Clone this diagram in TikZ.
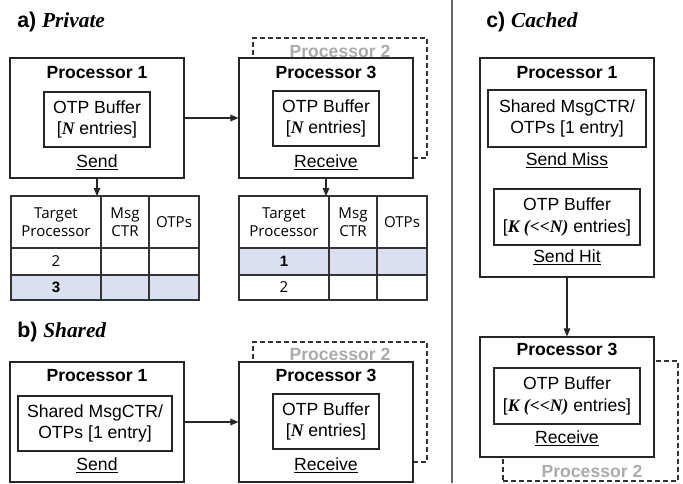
\documentclass[tikz,border=0pt]{standalone}
\usepackage{fontspec}
\setmainfont{Liberation Sans}
\newfontfamily\tms{Liberation Serif}
\newfontfamily\cellfont{Open Sans}
\usetikzlibrary{fit,arrows.meta}
\definecolor{rowhl}{HTML}{DAE0F0}
\definecolor{ghostgray}{HTML}{ABABAB}
\newcommand{\vbi}[1]{{\tms\bfseries\itshape #1}}
\begin{document}
\begin{tikzpicture}[x=0.75pt,y=-0.75pt,
  every node/.style={inner sep=0pt},
  procbox/.style={draw=black!85, fill=white, line width=0.9pt},
  innerbox/.style={draw=black!85, line width=0.9pt},
  ghostbox/.style={draw=black!80, dash pattern=on 3.5pt off 2.5pt, line width=0.8pt},
  proclbl/.style={font=\fontsize{13.2}{16}\selectfont\bfseries, anchor=base},
  ghostlbl/.style={proclbl, text=ghostgray},
  bodytxt/.style={font=\fontsize{13.2}{16}\selectfont, align=center},
  oplbl/.style={font=\fontsize{13.2}{16}\selectfont, anchor=base},
  paneltitle/.style={font=\fontsize{16}{19}\selectfont\bfseries, anchor=base west},
  celltxt/.style={font=\cellfont\fontsize{11.3}{13.5}\selectfont, align=center},
  link/.style={draw=black!85, line width=0.8pt, -{Triangle[length=6pt,width=5pt]}},
  tabline/.style={draw=black!80, line width=0.8pt},
  sepline/.style={draw=black!60, line width=1.1pt}
]
\useasboundingbox (0,0) rectangle (683,483);

% separator between the left panels and the cached panel
\draw[sepline] (452,0) -- (452,483);

% ---------------- a) Private ----------------
\node[paneltitle] (ta) at (17,27) {a) {\tms\itshape Private}};

\node[procbox, fit={(10,58)(184,178)}] (p1a) {};
\node[proclbl] (p1alab) at (97,78) {Processor 1};
\node[innerbox, fit={(44,92)(150,147)}] (bufa1) {};
\node[bodytxt] (bufa1txt) at (bufa1.center) {OTP Buffer\\{[}\vbi{N} entries{]}};
\node[oplbl] (senda) at (97,167) {\underline{Send}};

\node[ghostbox, fit={(253,38)(427,158)}] (p2a) {};
\node[ghostlbl] (p2alab) at (340,57) {Processor 2};
\node[procbox, fit={(239,58)(413,178)}] (p3a) {};
\node[proclbl] (p3alab) at (326,78) {Processor 3};
\node[innerbox, fit={(273,91)(379,146)}] (bufa3) {};
\node[bodytxt] (bufa3txt) at (bufa3.center) {OTP Buffer\\{[}\vbi{N} entries{]}};
\node[oplbl] (recva) at (326,167) {\underline{Receive}};

\draw[link] (p1a.east) -- (p1a.east -| p3a.west);

% sender-side table
\begin{scope}[shift={(11,0)}]
  \fill[rowhl] (0,275) rectangle (188,300);
  \draw[tabline] (0,196) rectangle (188,300);
  \draw[tabline] (0,248) -- (188,248) (0,275) -- (188,275)
                 (90,196) -- (90,300) (138,196) -- (138,300);
  \coordinate (tab1) at (0,196);
  \node[celltxt] (tab1h1) at (45,222) {Target\\Processor};
  \node[celltxt] (tab1h2) at (114,222) {Msg\\CTR};
  \node[celltxt] (tab1h3) at (163,222) {OTPs};
  \node[celltxt] (tab1r1) at (45,261.5) {2};
  \node[celltxt, font=\fontsize{11.3}{13.5}\selectfont\bfseries] (tab1r2) at (45,287.5) {3};
\end{scope}

% receiver-side table
\begin{scope}[shift={(239,0)}]
  \fill[rowhl] (0,248) rectangle (188,275);
  \draw[tabline] (0,196) rectangle (188,300);
  \draw[tabline] (0,248) -- (188,248) (0,275) -- (188,275)
                 (90,196) -- (90,300) (138,196) -- (138,300);
  \coordinate (tab2) at (0,196);
  \node[celltxt] (tab2h1) at (45,222) {Target\\Processor};
  \node[celltxt] (tab2h2) at (114,222) {Msg\\CTR};
  \node[celltxt] (tab2h3) at (163,222) {OTPs};
  \node[celltxt, font=\fontsize{11.3}{13.5}\selectfont\bfseries] (tab2r1) at (45,261.5) {1};
  \node[celltxt] (tab2r2) at (45,287.5) {2};
\end{scope}

\draw[link] (p1a.south) -- (p1a.south |- tab1);
\draw[link] (p3a.south) -- (p3a.south |- tab2);

% ---------------- b) Shared ----------------
\node[paneltitle] (tb) at (17,337) {b) {\tms\itshape Shared}};

\node[procbox, fit={(10,362)(184,482)}] (p1b) {};
\node[proclbl] (p1blab) at (97,381) {Processor 1};
\node[innerbox, fit={(18,396)(172,451)}] (bufb1) {};
\node[bodytxt] (bufb1txt) at (bufb1.center) {Shared MsgCTR/\\OTPs {[}1 entry{]}};
\node[oplbl] (sendb) at (97,470) {\underline{Send}};

\node[ghostbox, fit={(253,342)(427,462)}] (p2b) {};
\node[ghostlbl] (p2blab) at (340,360) {Processor 2};
\node[procbox, fit={(239,362)(413,482)}] (p3b) {};
\node[proclbl] (p3blab) at (326,381) {Processor 3};
\node[innerbox, fit={(273,394)(379,449)}] (bufb3) {};
\node[bodytxt] (bufb3txt) at (bufb3.center) {OTP Buffer\\{[}\vbi{N} entries{]}};
\node[oplbl] (recvb) at (326,470) {\underline{Receive}};

\draw[link] (p1b.east) -- (p1b.east -| p3b.west);

% ---------------- c) Cached ----------------
\node[paneltitle] (tc) at (486,27) {c) {\tms\itshape Cached}};

\node[procbox, fit={(480,58)(654,277)}] (p1c) {};
\node[proclbl] (p1clab) at (567,78) {Processor 1};
\node[innerbox, fit={(488,90)(646,147)}] (shc) {};
\node[bodytxt] (shctxt) at (shc.center) {Shared MsgCTR/\\OTPs {[}1 entry{]}};
\node[oplbl] (missc) at (567,165) {\underline{Send Miss}};
\node[innerbox, fit={(494,189)(640,245)}] (bufc1) {};
\node[bodytxt] (bufc1txt) at (bufc1.center) {OTP Buffer\\{[}\vbi{K (<<N)} entries{]}};
\node[oplbl] (hitc) at (567,262) {\underline{Send Hit}};

\node[ghostbox, fit={(503,361)(678,481)}] (p2c) {};
\node[ghostlbl] (p2clab) at (592,477) {Processor 2};
\node[procbox, fit={(480,337)(654,457)}] (p3c) {};
\node[proclbl] (p3clab) at (567,355) {Processor 3};
\node[innerbox, fit={(494,368)(640,424)}] (bufc3) {};
\node[bodytxt] (bufc3txt) at (bufc3.center) {OTP Buffer\\{[}\vbi{K (<<N)} entries{]}};
\node[oplbl] (recvc) at (567,443) {\underline{Receive}};

\draw[link] (p1c.south) -- (p3c.north);
\end{tikzpicture}
\end{document}
